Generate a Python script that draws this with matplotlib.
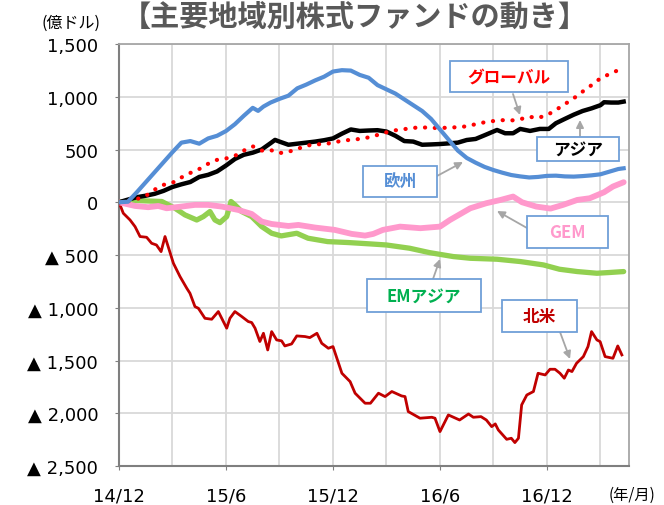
import numpy as np
import matplotlib
matplotlib.use("Agg")
import matplotlib.pyplot as plt
from matplotlib.patches import Rectangle

plt.rcParams['font.family'] = ['DejaVu Sans', 'Noto Sans CJK JP']
JP = ['Noto Sans CJK JP', 'DejaVu Sans']

# months since 2014/12, values in 億ドル (cumulative flows)
eu_m = [0, 0.5, 1, 1.5, 2, 2.5, 3, 3.5, 4, 4.5, 5, 5.5, 6, 6.5, 7, 7.5, 7.8, 8.1, 8.5, 9, 9.5,
        10, 10.5, 11, 11.5, 12, 12.5, 13, 13.5, 14, 14.5, 15, 15.5, 16, 16.5, 17, 17.5, 18, 18.5,
        19, 19.5, 20, 20.5, 21, 21.5, 22, 22.5, 23, 23.5, 24, 24.5, 25, 25.5, 26, 26.5, 27, 27.5,
        28, 28.3]
eu_v = [0, 5, 95, 190, 285, 380, 475, 565, 580, 555, 605, 630, 675, 740, 820, 895, 866, 907, 945,
        980, 1010, 1080, 1115, 1155, 1190, 1239, 1252, 1248, 1207, 1180, 1110, 1070, 1030, 975, 920,
        865, 790, 690, 590, 490, 420, 375, 335, 305, 280, 258, 245, 235, 240, 250, 252, 245, 243,
        248, 255, 265, 290, 315, 322]

gl_m = [0, 0.5, 1, 1.5, 2, 2.5, 3, 3.5, 4, 4.5, 5, 5.5, 6, 6.5, 7, 7.5, 8, 8.5, 9, 9.5, 10, 10.5,
        11, 11.5, 12, 12.5, 13, 13.5, 14, 14.5, 15, 15.5, 16, 16.5, 17, 17.5, 18, 18.5, 19, 19.5,
        20, 20.5, 21, 21.5, 22, 22.5, 23, 23.5, 24, 24.5, 25, 25.5, 26, 26.5, 27, 27.5, 27.9]
gl_v = [0, 10, 30, 60, 120, 165, 185, 235, 278, 315, 365, 402, 415, 440, 490, 530, 490, 495, 466,
        478, 505, 535, 550, 550, 565, 583, 592, 600, 615, 638, 663, 682, 693, 705, 710, 705, 703,
        708, 711, 720, 740, 758, 770, 778, 775, 787, 810, 800, 825, 875, 930, 985, 1049, 1110,
        1175, 1215, 1245]

as_m = [0, 0.5, 1, 1.5, 2, 2.5, 3, 3.5, 4, 4.5, 5, 5.5, 6, 6.5, 7, 7.5, 8, 8.5, 8.75, 9, 9.5, 10,
        10.5, 11, 11.5, 12, 12.5, 13, 13.5, 14, 14.5, 15, 15.5, 16, 16.5, 17, 17.5, 18, 18.5, 19,
        19.5, 20, 20.5, 21.2, 21.65, 22.1, 22.5, 23.05, 23.6, 24.1, 24.5, 25, 25.5, 26, 26.5, 27,
        27.2, 27.6, 28, 28.3]
as_v = [0, 25, 48, 62, 80, 108, 145, 170, 192, 240, 260, 292, 348, 410, 450, 470, 500, 560, 591,
        575, 545, 555, 565, 575, 588, 605, 650, 690, 676, 680, 683, 670, 630, 580, 575, 545, 548,
        552, 558, 565, 590, 600, 635, 685, 654, 654, 695, 676, 695, 695, 749, 790, 830, 865, 890,
        920, 948, 945, 945, 954]

em_m = [0, 1, 2.4, 3.14, 3.7, 4.36, 4.73, 5.1, 5.38, 5.66, 6.04, 6.28, 6.5, 6.88, 7.44, 8.0, 8.56,
        9.1, 9.97, 10.6, 11.7, 12.86, 14.1, 15.0, 16.3, 17.4, 18.75, 19.7, 21.2, 22.5, 23.8, 24.7,
        25.7, 26.8, 27.5, 28.3]
em_v = [0, 16, 7, -57, -120, -168, -136, -88, -168, -193, -136, 7, -25, -88, -136, -230, -294,
        -319, -294, -341, -373, -382, -395, -405, -436, -477, -515, -531, -540, -562, -594, -635,
        -657, -673, -666, -657]

gem_m = [0, 0.9, 1.64, 2.2, 2.67, 3.5, 4.26, 5.0, 5.76, 6.69, 7.44, 8.0, 8.56, 9.5, 10.06, 11.0,
         12.1, 13.05, 13.8, 14.26, 14.8, 15.76, 16.9, 18.0, 18.56, 19.7, 20.6, 21.4, 22.1, 22.6,
         23.4, 24.2, 24.9, 25.7, 26.4, 27.2, 27.7, 28.3]
gem_v = [0, -35, -47, -35, -57, -41, -25, -25, -41, -73, -111, -183, -206, -225, -215, -240, -262,
         -300, -316, -300, -262, -231, -246, -231, -168, -57, -9, 22, 54, 0, -41, -60, -25, 22, 38,
         95, 149, 190]

na_m = [0, 0.24, 0.62, 0.9, 1.18, 1.55, 1.83, 2.1, 2.36, 2.58, 3.05, 3.42, 3.8, 3.98, 4.26, 4.45,
        4.82, 5.2, 5.57, 6.04, 6.22, 6.5, 6.88, 7.25, 7.44, 7.63, 7.9, 8.1, 8.34, 8.56, 8.84, 9.12,
        9.3, 9.68, 9.97, 10.43, 10.7, 11.1, 11.37, 11.74, 12.0, 12.5, 12.96, 13.24, 13.8, 14.1,
        14.55, 14.92, 15.3, 15.85, 16.04, 16.22, 16.88, 17.54, 17.72, 18.0, 18.47, 19.1, 19.6,
        19.87, 20.3, 20.6, 20.9, 21.1, 21.27, 21.74, 22.0, 22.2, 22.4, 22.58, 22.87, 23.24, 23.5,
        23.9, 24.17, 24.45, 24.73, 24.97, 25.2, 25.4, 25.66, 26.04, 26.3, 26.5, 26.8, 26.98, 27.26,
        27.7, 27.97, 28.2]
na_v = [0, -104, -168, -231, -325, -332, -389, -405, -468, -325, -578, -704, -815, -863, -989,
        -1005, -1100, -1109, -1036, -1194, -1100, -1036, -1083, -1131, -1140, -1194, -1320, -1242,
        -1400, -1226, -1305, -1314, -1362, -1343, -1267, -1273, -1283, -1242, -1337, -1384, -1368,
        -1621, -1700, -1810, -1905, -1905, -1810, -1842, -1794, -1836, -1842, -1984, -2047, -2038,
        -2047, -2174, -2016, -2064, -2007, -2038, -2032, -2064, -2127, -2101, -2158, -2247, -2237,
        -2278, -2237, -1921, -1827, -1794, -1621, -1637, -1583, -1583, -1621, -1668, -1590, -1605,
        -1526, -1463, -1368, -1226, -1305, -1321, -1463, -1479, -1362, -1447]

x_ticks = [0, 6, 12, 18, 24]
x_labels = ['14/12', '15/6', '15/12', '16/6', '16/12']
y_ticks = [-2500, -2000, -1500, -1000, -500, 0, 500, 1000, 1500]

W, H = 664, 506
fig = plt.figure(figsize=(W / 100, H / 100), dpi=100)
ax = fig.add_axes([119 / W, 1 - 467 / H, 510 / W, 422 / H])

ax.plot(na_m, na_v, color='#c00000', lw=2.0, zorder=3)
ax.plot(em_m, em_v, color='#92d050', lw=3.8, zorder=4, solid_capstyle='round')
ax.plot(gem_m, gem_v, color='#ff99cc', lw=4.2, zorder=5, solid_capstyle='round')
ax.plot(as_m, as_v, color='black', lw=3.2, zorder=6)
ax.plot(gl_m, gl_v, color='#ff0000', lw=3.0, ls=(0, (0.05, 2.3)), dash_capstyle='round', zorder=7)
ax.plot(eu_m, eu_v, color='#558ed5', lw=3.0, zorder=8)

ax.set_xlim(0, 28.6)
ax.set_ylim(-2500, 1500)
ax.set_xticks(x_ticks)
ax.set_xticklabels(x_labels)
ax.set_xticks(np.arange(3, 28.6, 3), minor=True)
ax.set_yticks(y_ticks)
ax.set_yticklabels([f"{v:,}" if v >= 0 else f"▲ {-v:,}" for v in y_ticks])
ax.grid(True, which='both', color='#d9d9d9', lw=1.3, zorder=0)
ax.tick_params(axis='both', which='major', labelsize=13, length=3, color='#808080')
ax.tick_params(axis='y', pad=12)
ax.tick_params(axis='x', pad=12)
ax.tick_params(axis='x', which='minor', length=0)
for s in ['left', 'bottom']:
    ax.spines[s].set_color('#7f7f7f')
    ax.spines[s].set_linewidth(1.5)
for s in ['top', 'right']:
    ax.spines[s].set_color('#a6a6a6')
    ax.spines[s].set_linewidth(1.3)

fig.text(355 / W, 1 - 17 / H, '【主要地域別株式ファンドの動き】', ha='center', va='center',
         fontsize=21, fontweight='bold', color='#595959', family=JP)
fig.text(71 / W, 1 - 23 / H, '(億ドル)', ha='center', va='center', fontsize=11.5, family=JP)
fig.text(632 / W, 1 - 495 / H, '(年/月)', ha='center', va='center', fontsize=11, family=JP)

# label boxes: (text, color, box left, top, right, bottom, arrow start, arrow end) in pixels
boxes = [
    ('グローバル', '#ff0000', 450, 62, 568, 93, (513, 95), (520, 116)),
    ('アジア', 'black', 537, 138, 619, 162, (580, 137), (580, 121)),
    ('欧州', '#558ed5', 363, 167, 437, 198, (437, 177), (463, 163)),
    ('GEM', '#ff99cc', 527, 217, 608, 249, (527, 229), (497, 212)),
    ('EMアジア', '#00b050', 367, 280, 481, 313, (433, 280), (440, 260)),
    ('北米', '#c00000', 502, 301, 577, 333, (560, 333), (570, 360)),
]
for txt, col, x0, y0, x1, y1, a0, a1 in boxes:
    fig.add_artist(Rectangle((x0 / W, 1 - y1 / H), (x1 - x0) / W, (y1 - y0) / H,
                             transform=fig.transFigure, facecolor='white',
                             edgecolor='#6f9fd8', lw=1.3, zorder=10))
    fig.text((x0 + x1) / 2 / W, 1 - (y0 + y1) / 2 / H, txt, ha='center', va='center',
             fontsize=12, fontweight='bold', color=col, family=JP, zorder=11)
    ax.annotate('', xy=(a1[0] / W, 1 - a1[1] / H), xycoords='figure fraction',
                xytext=(a0[0] / W, 1 - a0[1] / H), textcoords='figure fraction',
                arrowprops=dict(arrowstyle='-|>', color='#a6a6a6', lw=1.3, mutation_scale=11,
                                shrinkA=0, shrinkB=0), zorder=12)

fig.savefig('out.png', dpi=100)
